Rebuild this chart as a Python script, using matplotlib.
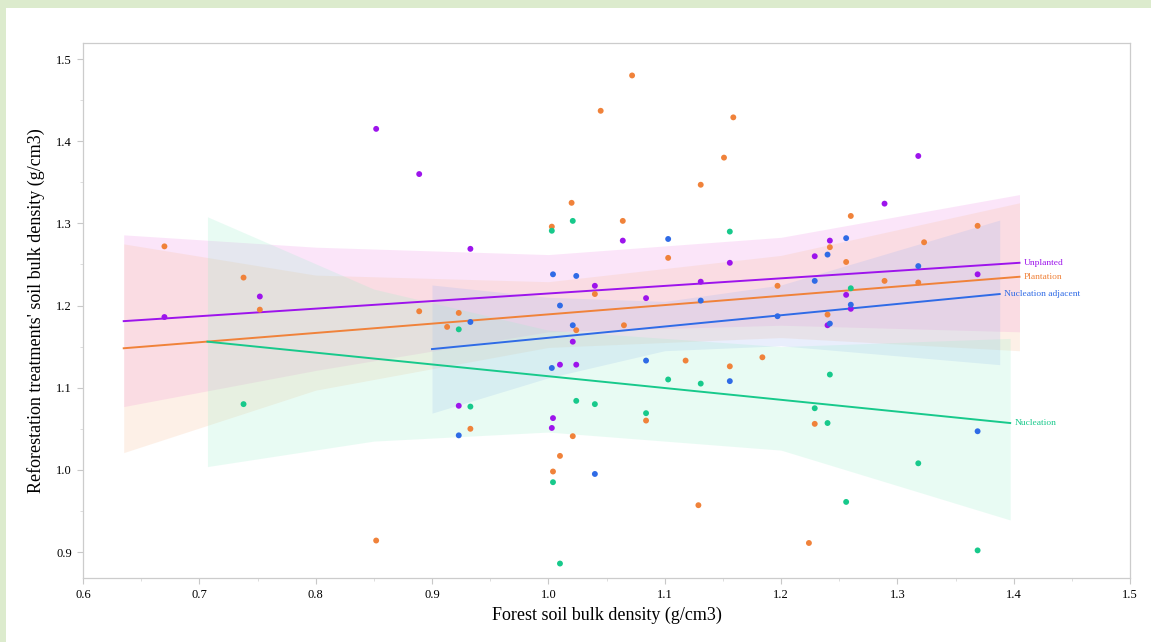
import numpy as np
import matplotlib.pyplot as plt
from matplotlib.patches import Rectangle
from matplotlib.ticker import MultipleLocator

plt.rcParams['font.family'] = ['Liberation Serif', 'DejaVu Serif']

# scatter points: (forest, treatment)
unplanted_x = [0.670, 0.752, 0.852, 0.889, 0.923, 0.933, 1.003, 1.004, 1.010, 1.021, 1.024,
               1.040, 1.064, 1.084, 1.131, 1.156, 1.229, 1.240, 1.242, 1.256, 1.260, 1.289,
               1.318, 1.369]
unplanted_y = [1.186, 1.211, 1.415, 1.360, 1.078, 1.269, 1.051, 1.063, 1.128, 1.156, 1.128,
               1.224, 1.279, 1.209, 1.229, 1.252, 1.260, 1.176, 1.279, 1.213, 1.196, 1.324,
               1.382, 1.238]

plantation_x = [0.670, 0.738, 0.752, 0.852, 0.889, 0.913, 0.923, 0.933, 1.003, 1.004, 1.010,
                1.020, 1.021, 1.024, 1.040, 1.045, 1.064, 1.065, 1.072, 1.084, 1.103, 1.118,
                1.129, 1.131, 1.151, 1.156, 1.159, 1.184, 1.197, 1.224, 1.229, 1.240, 1.242,
                1.256, 1.260, 1.289, 1.318, 1.323, 1.369]
plantation_y = [1.272, 1.234, 1.195, 0.914, 1.193, 1.174, 1.191, 1.050, 1.296, 0.998, 1.017,
                1.325, 1.041, 1.170, 1.214, 1.437, 1.303, 1.176, 1.480, 1.060, 1.258, 1.133,
                0.957, 1.347, 1.380, 1.126, 1.429, 1.137, 1.224, 0.911, 1.056, 1.189, 1.271,
                1.253, 1.309, 1.230, 1.228, 1.277, 1.297]

nuc_adj_x = [0.923, 0.933, 1.003, 1.004, 1.010, 1.021, 1.024, 1.040, 1.084, 1.103, 1.131,
             1.156, 1.197, 1.229, 1.240, 1.242, 1.256, 1.260, 1.318, 1.369]
nuc_adj_y = [1.042, 1.180, 1.124, 1.238, 1.200, 1.176, 1.236, 0.995, 1.133, 1.281, 1.206,
             1.108, 1.187, 1.230, 1.262, 1.178, 1.282, 1.201, 1.248, 1.047]

nucleation_x = [0.738, 0.923, 0.933, 1.003, 1.004, 1.010, 1.021, 1.024, 1.040, 1.084, 1.103,
                1.131, 1.156, 1.229, 1.240, 1.242, 1.256, 1.260, 1.318, 1.369]
nucleation_y = [1.080, 1.171, 1.077, 1.291, 0.985, 0.886, 1.303, 1.084, 1.080, 1.069, 1.110,
                1.105, 1.290, 1.075, 1.057, 1.116, 0.961, 1.221, 1.008, 0.902]

# fitted lines (end points) and confidence bands
unplanted_fit_x = [0.635, 1.405]
unplanted_fit_y = [1.181, 1.252]
plantation_fit_x = [0.635, 1.405]
plantation_fit_y = [1.148, 1.235]
nuc_adj_fit_x = [0.900, 1.388]
nuc_adj_fit_y = [1.147, 1.214]
nucleation_fit_x = [0.707, 1.397]
nucleation_fit_y = [1.156, 1.057]

unplanted_band_x = [0.635, 0.8, 1.0, 1.2, 1.405]
unplanted_band_hi = [1.286, 1.271, 1.262, 1.283, 1.335]
unplanted_band_lo = [1.077, 1.121, 1.168, 1.176, 1.168]
plantation_band_x = [0.635, 0.8, 1.0, 1.2, 1.405]
plantation_band_hi = [1.275, 1.237, 1.229, 1.261, 1.325]
plantation_band_lo = [1.021, 1.097, 1.149, 1.161, 1.145]
nuc_adj_band_x = [0.900, 1.0, 1.1, 1.2, 1.388]
nuc_adj_band_hi = [1.225, 1.210, 1.205, 1.225, 1.304]
nuc_adj_band_lo = [1.069, 1.112, 1.145, 1.151, 1.128]
nucleation_band_x = [0.707, 0.85, 1.0, 1.2, 1.397]
nucleation_band_hi = [1.308, 1.220, 1.170, 1.150, 1.160]
nucleation_band_lo = [1.004, 1.035, 1.046, 1.024, 0.939]

series = [
    ("Unplanted", "#9d14ec", unplanted_x, unplanted_y, unplanted_fit_x, unplanted_fit_y,
     unplanted_band_x, unplanted_band_lo, unplanted_band_hi, "#f08ae6"),
    ("Plantation", "#f0823a", plantation_x, plantation_y, plantation_fit_x, plantation_fit_y,
     plantation_band_x, plantation_band_lo, plantation_band_hi, "#f9bf95"),
    ("Nucleation adjacent", "#2f6be6", nuc_adj_x, nuc_adj_y, nuc_adj_fit_x, nuc_adj_fit_y,
     nuc_adj_band_x, nuc_adj_band_lo, nuc_adj_band_hi, "#9cb4f2"),
    ("Nucleation", "#17c98b", nucleation_x, nucleation_y, nucleation_fit_x, nucleation_fit_y,
     nucleation_band_x, nucleation_band_lo, nucleation_band_hi, "#9af0cc"),
]

fig = plt.figure(figsize=(11.51, 6.42), dpi=100)
fig.patch.set_facecolor('#dcebcd')
fig.add_artist(Rectangle((6 / 1151, 0), 1, 1 - 8 / 642, transform=fig.transFigure,
                         facecolor='white', edgecolor='none', zorder=-1))
ax = fig.add_axes([83 / 1151, 1 - 578 / 642, (1130 - 83) / 1151, (578 - 43) / 642])

for name, col, xs, ys, fx, fy, bx, blo, bhi, bcol in series:
    ax.fill_between(bx, blo, bhi, color=bcol, alpha=0.22, linewidth=0, zorder=1)
for name, col, xs, ys, fx, fy, bx, blo, bhi, bcol in series:
    ax.plot(fx, fy, color=col, lw=1.4, zorder=3)
    ax.scatter(xs, ys, s=18, color=col, edgecolors='none', zorder=4)
    ax.text(fx[-1] + 0.004, fy[-1], name, color=col, fontsize=6.8, va='center', ha='left')

ax.set_xlim(0.6, 1.5)
ax.set_ylim(0.8684, 1.5195)
ax.xaxis.set_minor_locator(MultipleLocator(0.05))
ax.yaxis.set_minor_locator(MultipleLocator(0.05))
ax.set_xticks(np.arange(0.6, 1.51, 0.1))
ax.set_xticklabels([f"{v:.1f}" for v in np.arange(0.6, 1.51, 0.1)])
ax.set_yticks(np.arange(0.9, 1.51, 0.1))
ax.set_yticklabels([f"{v:.1f}" for v in np.arange(0.9, 1.51, 0.1)])
ax.tick_params(which='major', length=4, color='#c8c8c8', labelsize=9, pad=4)
ax.tick_params(which='minor', length=2, color='#d8d8d8')
for s in ax.spines.values():
    s.set_color('#cccccc')
    s.set_linewidth(0.9)

ax.set_xlabel("Forest soil bulk density (g/cm3)", fontsize=13, labelpad=4)
ax.set_ylabel("Reforestation treatments' soil bulk density (g/cm3)", fontsize=13, labelpad=8)

fig.savefig("out.png", dpi=100, facecolor=fig.get_facecolor())
